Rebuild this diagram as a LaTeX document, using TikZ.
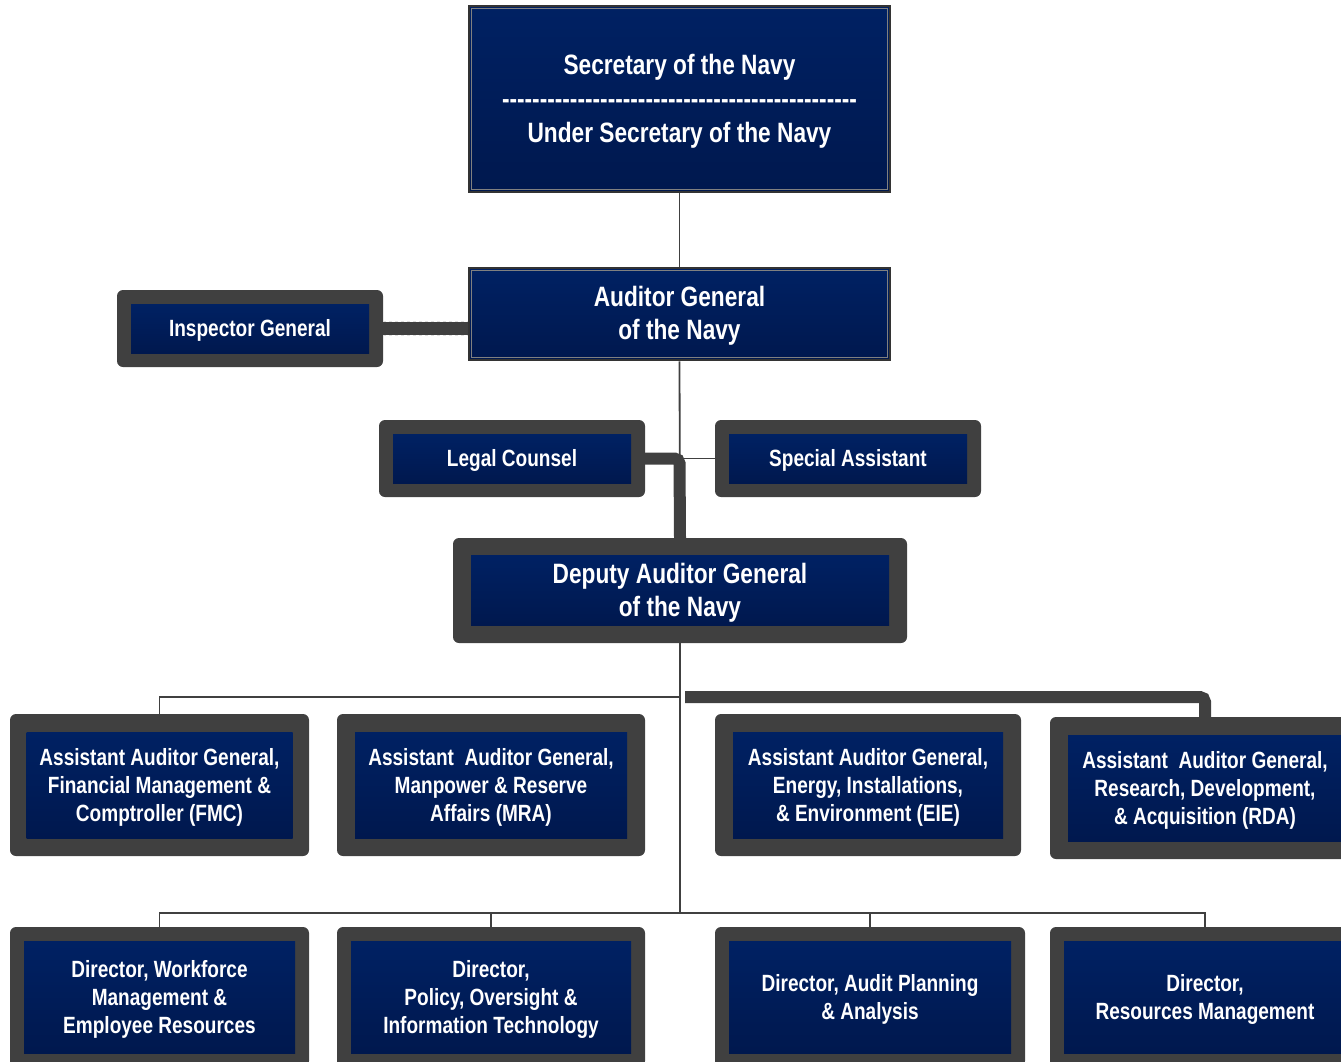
\documentclass[tikz,border=0pt]{standalone}
\usepackage{fontspec}
\setmainfont{Liberation Sans}[FakeStretch=0.81]
\newfontfamily\plainfont{Liberation Sans}[FakeStretch=0.81]
\definecolor{navytop}{HTML}{002163}
\definecolor{navybot}{HTML}{00184E}
\definecolor{dgray}{HTML}{404040}
\newcommand\obox[8]{%
  \node[outerbox, minimum width=#4, minimum height=#5] (#1) at (#2,#3) {};
  \node[innerbox, minimum width=#6, minimum height=#7] (#1i) at (#1) {};
  \node[boxtext] (#1t) at ([yshift=-2pt]#1i.center) {#8};}
\begin{document}
\begin{tikzpicture}[x=1pt,y=-1pt,
  outerbox/.style={rounded corners=6pt, fill=dgray, inner sep=0pt},
  innerbox/.style={top color=navytop, bottom color=navybot, inner sep=0pt},
  boxtext/.style={inner sep=0pt, text=white, align=center, font=\fontsize{23.5}{28}\selectfont\bfseries},
  bigtext/.style={inner sep=0pt, text=white, align=center, font=\fontsize{28}{33}\selectfont\bfseries},
  bigbox/.style={top color=navytop, bottom color=navybot, draw=black!80, line width=2.5pt, inner sep=0pt},
  thinconn/.style={draw=dgray, line width=1.8pt},
  thickconn/.style={draw=dgray, line width=12pt}
]
\useasboundingbox (0,0) rectangle (1341,1061);
\clip (0,0) rectangle (1341,1061);

% top boxes
\node[bigbox, minimum width=421, minimum height=186] (sec) at (679.5,99) {};
\draw[gray, line width=1pt] ([shift={(4,4)}]sec.north west) rectangle ([shift={(-4,-4)}]sec.south east);
\node[bigtext, font=\fontsize{28}{34}\selectfont\bfseries] (sect) at ([yshift=-2pt]sec.center)
  {Secretary of the Navy\\{\plainfont\bfseries -----------------------------------------------}\\Under Secretary of the Navy};
\node[bigbox, minimum width=421, minimum height=92] (ag) at (679.5,314) {};
\draw[gray, line width=1pt] ([shift={(4,4)}]ag.north west) rectangle ([shift={(-4,-4)}]ag.south east);
\node[bigtext] (agt) at ([yshift=-2pt]ag.center) {Auditor General\\of the Navy};

% inspector general, legal counsel, special assistant
\obox{ig}{250}{328.5}{266}{77}{238}{49}{Inspector General}
\obox{lc}{512}{458.5}{266}{77}{238}{49}{Legal Counsel}
\obox{sa}{848}{458.5}{266}{77}{238}{49}{Special Assistant}

% deputy
\node[outerbox, minimum width=454, minimum height=105] (dep) at (680,590.5) {};
\node[innerbox, minimum width=418, minimum height=70] (depi) at (dep) {};
\node[bigtext] (dept) at ([yshift=-2pt]depi.center) {Deputy Auditor General\\of the Navy};

% first row
\obox{fmc}{159.5}{785}{299}{142}{266}{106}{Assistant Auditor General,\\Financial Management \&\\Comptroller (FMC)}
\obox{mra}{491}{785}{308}{142}{272}{106}{Assistant\ \ Auditor General,\\Manpower \& Reserve\\Affairs (MRA)}
\obox{eie}{868}{785}{306}{142}{270}{106}{Assistant Auditor General,\\Energy, Installations,\\\& Environment (EIE)}
\obox{rda}{1205}{788}{310}{142}{274}{106}{Assistant\ \ Auditor General,\\Research, Development,\\\& Acquisition (RDA)}

% second row
\obox{wmer}{159.5}{997}{299}{140}{271}{112}{Director, Workforce\\Management \&\\Employee Resources}
\obox{poit}{491}{997}{308}{140}{280}{112}{Director,\\Policy, Oversight \&\\Information Technology}
\obox{apa}{870}{997}{310}{140}{282}{112}{Director, Audit Planning\\\& Analysis}
\obox{rm}{1205}{997}{310}{140}{282}{112}{Director,\\Resources Management}

% bus coordinates
\coordinate (bus1) at (680,697);
\coordinate (bus2) at (680,913);

% connectors
\draw[thinconn] (sec.south) -- (ag.north);
\draw[thinconn] (ag.south) -- (dep.north);
\draw[thinconn] (sa.west) -- (sa.west -| ag.south);
\draw[thickconn, line width=13pt] (ig.east) -- (ig.east -| ag.west);
\draw[white!75!gray, line width=0.6pt, dashed] ([yshift=-7]ig.east) -- ([yshift=-7]ig.east -| ag.west);
\draw[white!75!gray, line width=0.6pt, dashed] ([yshift=7]ig.east) -- ([yshift=7]ig.east -| ag.west);
\draw[thickconn, rounded corners=5pt] (lc.east) -- (lc.east -| ag.south) -- (dep.north);
\draw[thinconn] (dep.south) -- (bus2);
\draw[thinconn] (fmc.north) -- (fmc.north |- bus1) -- (bus1);
\draw[thickconn, rounded corners=5pt] ([xshift=5]bus1) -| (rda.north);
\draw[thinconn] (wmer.north) -- (wmer.north |- bus2) -- (rm.north |- bus2) -- (rm.north);
\draw[thinconn] (poit.north) -- (poit.north |- bus2);
\draw[thinconn] (apa.north) -- (apa.north |- bus2);
\end{tikzpicture}
\end{document}
